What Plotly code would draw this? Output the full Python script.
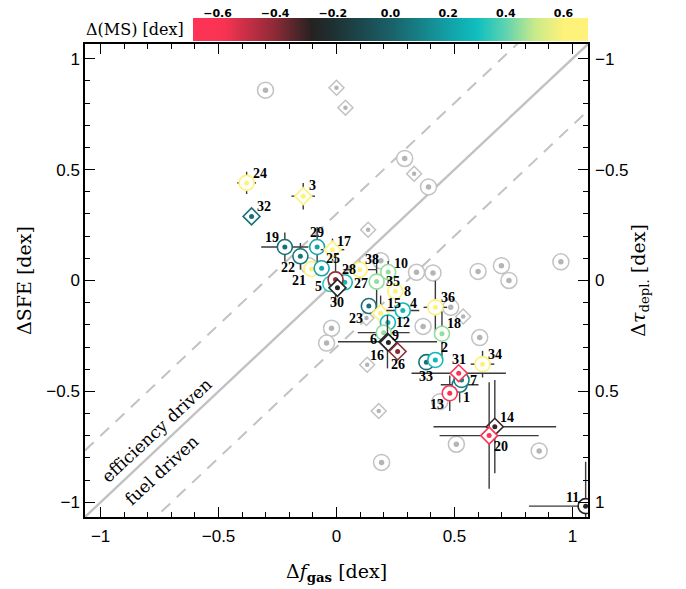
import plotly.graph_objects as go

# ---------------- data ----------------
IDS   = [19, 22, 29, 21, 25, 17, 24, 3, 32, 5, 27, 28, 30, 38, 10, 35, 8, 23, 15, 4,
         12, 9, 6, 16, 26, 36, 18, 33, 2, 1, 7, 13, 31, 34, 14, 20, 11]
DFGAS = [-0.219, -0.153, -0.082, -0.106, -0.063, -0.017, -0.381, -0.141, -0.360, -0.026,
         0.035, -0.004, 0.004, 0.099, 0.219, 0.170, 0.249, 0.137, 0.187, 0.281,
         0.218, 0.200, 0.216, 0.220, 0.259, 0.419, 0.447, 0.381, 0.419, 0.522,
         0.530, 0.480, 0.518, 0.619, 0.671, 0.647, 1.056]
DSFE  = [0.151, 0.109, 0.151, 0.052, 0.055, 0.139, 0.440, 0.380, 0.289, -0.016,
         -0.008, 0.005, -0.033, 0.049, 0.038, -0.005, -0.049, -0.115, -0.148, -0.135,
         -0.189, -0.235, -0.276, -0.280, -0.320, -0.121, -0.240, -0.368, -0.358, -0.470,
         -0.448, -0.508, -0.418, -0.377, -0.659, -0.699, -1.017]
DMS   = [0.05, 0.07, 0.22, 0.60, 0.22, 0.62, 0.62, 0.62, 0.05, 0.35,
         0.28, -0.42, -0.25, 0.62, 0.45, 0.45, 0.62, 0.06, 0.60, 0.28,
         0.28, 0.45, -0.25, -0.25, -0.40, 0.62, 0.45, 0.05, 0.28, 0.08,
         0.10, -0.65, -0.65, 0.62, -0.30, -0.65, -0.27]
SHAPE = ['circle', 'circle', 'circle', 'circle', 'circle', 'diamond', 'circle', 'diamond', 'diamond', 'circle',
         'circle', 'circle', 'diamond', 'circle', 'circle', 'circle', 'circle', 'circle', 'diamond', 'circle',
         'circle', 'circle', 'diamond', 'diamond', 'diamond', 'circle', 'circle', 'circle', 'circle', 'circle',
         'circle', 'circle', 'diamond', 'circle', 'diamond', 'diamond', 'circle']
XERR  = [0.10, 0, 0, 0, 0, 0.05, 0.04, 0.05, 0, 0,
         0, 0, 0, 0.07, 0, 0, 0, 0, 0, 0.07,
         0, 0.11, 0.21, 0, 0, 0.05, 0, 0, 0, 0.08,
         0, 0, 0.20, 0.05, 0.26, 0.21, 0.24]
YERR  = [0.065, 0.06, 0.09, 0, 0, 0.05, 0.05, 0.06, 0, 0,
         0, 0.11, 0, 0.04, 0.05, 0.12, 0, 0, 0.08, 0,
         0, 0, 0.12, 0, 0, 0.12, 0.10, 0, 0, 0.08,
         0, 0.08, 0, 0.06, 0.21, 0.24, 0.20]

# comparison sample (grey)
GREY_C_X = [-0.301, 0.289, 0.390, 0.339, 0.409, 0.600, 0.699, 0.731, 0.951, 0.188,
            -0.117, -0.021, -0.042, 0.367, 0.484, 0.607, 0.438, 0.191, 0.508, 0.859]
GREY_C_Y = [0.858, 0.550, 0.422, 0.037, 0.034, 0.041, 0.067, 0.000, 0.084, 0.089,
            0.066, -0.215, -0.282, -0.207, -0.121, -0.257, -0.546, -0.820, -0.738, -0.768]
GREY_D_X = [0.000, 0.038, 0.329, 0.134, 0.537, 0.130, 0.179, 0.127]
GREY_D_Y = [0.869, 0.779, 0.481, 0.229, -0.162, -0.380, -0.588, -0.169]

DIAG_OFFSETS = [0.0, 0.3, -0.3]
XTICKS = [-1, -0.5, 0, 0.5, 1]
CB_TICKS = [-0.6, -0.4, -0.2, 0.0, 0.2, 0.4, 0.6]

# ---------------- style ----------------
LABEL_SHIFT = {19: (-13, 9), 22: (-12, -11), 29: (0, 14), 21: (-12, -12), 25: (11, 10),
               17: (12, 8), 24: (13, 9), 3: (9, 11), 32: (12, 10), 5: (-12, -2),
               27: (16, -1), 28: (13, 10), 30: (0, -15), 38: (12, 10), 10: (13, 9),
               35: (16, 0), 8: (12, 0), 23: (-13, -12), 15: (13, 10), 4: (11, 7),
               12: (15, 0), 9: (12, -3), 6: (-14, 2), 16: (-11, -13), 26: (0, -13),
               36: (13, 10), 18: (12, 10), 33: (0, -14), 2: (9, 12), 1: (7, -13),
               7: (12, -1), 13: (-13, -11), 31: (0, 14), 34: (12, 10), 14: (12, 9),
               20: (12, -11), 11: (-13, 9)}

XR = [-1.066, 1.066]
YR = [-1.066, 1.066]
CMIN, CMAX = -0.685, 0.685
CSCALE = [[0.0, '#ff3355'], [0.08, '#f73352'], [0.208, '#8c2a36'], [0.30, '#262222'],
          [0.354, '#1e3032'], [0.5, '#1a6068'], [0.646, '#12a0a6'], [0.72, '#10bfbf'],
          [0.792, '#5fd3b0'], [0.865, '#c8ea8a'], [0.938, '#fdf27a'], [1.0, '#fff27a']]
GREY_RING = '#c2c2c2'
GREY_DOT = '#b5b5b5'
ERR_COL = '#3a3a3a'


def fmt(v):
    s = ('%g' % v)
    return s.replace('-', '\u2212')


fig = go.Figure()

# relation lines
for off in DIAG_OFFSETS:
    xs = list(XR)
    ys = [v + off for v in xs]
    fig.add_trace(go.Scatter(
        x=xs, y=ys, mode='lines', hoverinfo='skip', showlegend=False,
        line=dict(color=GREY_RING, width=2.4 if off == 0 else 2.0,
                  dash='solid' if off == 0 else '12px,9px')))

# grey comparison sample
fig.add_trace(go.Scatter(x=GREY_C_X, y=GREY_C_Y, mode='markers', showlegend=False,
                         marker=dict(symbol='circle', size=16, color='white',
                                     line=dict(color=GREY_RING, width=1.5))))
fig.add_trace(go.Scatter(x=GREY_C_X, y=GREY_C_Y, mode='markers', showlegend=False,
                         marker=dict(symbol='circle', size=5.5, color=GREY_DOT, line=dict(width=0))))
fig.add_trace(go.Scatter(x=GREY_D_X, y=GREY_D_Y, mode='markers', showlegend=False,
                         marker=dict(symbol='diamond', size=11.5, color='white',
                                     line=dict(color=GREY_RING, width=1.5))))
fig.add_trace(go.Scatter(x=GREY_D_X, y=GREY_D_Y, mode='markers', showlegend=False,
                         marker=dict(symbol='circle', size=4.5, color=GREY_DOT, line=dict(width=0))))

# main sample, one ring + dot per galaxy to keep the stacking order
n = len(IDS)
for i in range(n):
    ex = XERR[i]
    ey = YERR[i]
    ring_size = 15 if SHAPE[i] == 'circle' else 13
    fig.add_trace(go.Scatter(
        x=[DFGAS[i]], y=[DSFE[i]], mode='markers', showlegend=False,
        error_x=dict(type='data', array=[ex], visible=ex > 0, color=ERR_COL, thickness=1.4, width=0),
        error_y=dict(type='data', array=[ey], visible=ey > 0, color=ERR_COL, thickness=1.4, width=0),
        marker=dict(symbol=SHAPE[i], size=ring_size, color='white',
                    line=dict(color=[DMS[i]], colorscale=CSCALE, cmin=CMIN, cmax=CMAX, width=1.6))))
    last = (i == n - 1)
    fig.add_trace(go.Scatter(
        x=[DFGAS[i]], y=[DSFE[i]], mode='markers', showlegend=False,
        marker=dict(symbol='circle', size=5, color=[DMS[i]], colorscale=CSCALE,
                    cmin=CMIN, cmax=CMAX, line=dict(width=0), showscale=last,
                    colorbar=dict(orientation='h', lenmode='pixels', len=395, thickness=23,
                                  x=0.6074, xanchor='center', y=0.9539, yanchor='bottom',
                                  xpad=0, ypad=0, outlinewidth=0, ticks='',
                                  showticklabels=False) if last else None)))
    dxs, dys = LABEL_SHIFT[IDS[i]]
    fig.add_annotation(x=DFGAS[i], y=DSFE[i], text=str(IDS[i]), showarrow=False,
                       xshift=dxs, yshift=dys,
                       font=dict(family='Liberation Serif', size=14, color='black', weight='bold'))

# dummy traces to activate the secondary axes
fig.add_trace(go.Scatter(x=[None], y=[None], yaxis='y2', showlegend=False, hoverinfo='skip'))
fig.add_trace(go.Scatter(x=[None], y=[None], xaxis='x3', yaxis='y3', showlegend=False, hoverinfo='skip'))

# region text
fig.add_annotation(x=-0.761, y=-0.674, text='efficiency driven', showarrow=False, textangle=-43,
                   font=dict(family='DejaVu Serif', size=17, color='black'))
fig.add_annotation(x=-0.740, y=-0.854, text='fuel driven', showarrow=False, textangle=-43,
                   font=dict(family='DejaVu Serif', size=17, color='black'))
# colorbar title
fig.add_annotation(xref='paper', yref='paper', x=0.2008, y=0.977, xanchor='right', yanchor='middle',
                   text='Δ(MS) [dex]', showarrow=False,
                   font=dict(family='DejaVu Serif', size=16, color='black'))

TICKFONT = dict(family='Liberation Sans', size=17, color='black')
TITLEFONT = dict(family='DejaVu Serif', size=19, color='black')
axis_common = dict(showline=True, linecolor='black', linewidth=1.5, mirror='ticks',
                   ticks='inside', ticklen=10, tickwidth=1.3, tickcolor='black',
                   showgrid=False, zeroline=False, tickfont=TICKFONT, automargin=False,
                   tickvals=XTICKS,
                   minor=dict(ticks='inside', ticklen=5, tickwidth=1.3, tickcolor='black', dtick=0.1))

# right axis: depletion time, tau = -SFE offset
TAU_TEXT = [fmt(-v) for v in XTICKS]

fig.update_layout(
    width=686, height=589,
    margin=dict(l=77, r=106, t=10, b=80, autoexpand=False),
    paper_bgcolor='white', plot_bgcolor='white',
    showlegend=False,
    xaxis=dict(range=XR, domain=[0, 1], anchor='y', ticklabelstandoff=3,
               title=dict(text='Δ<i>f</i><sub><b>gas</b></sub> [dex]', font=TITLEFONT, standoff=20),
               **axis_common),
    yaxis=dict(range=YR, domain=[0, 0.9479], anchor='x',
               title=dict(text='ΔSFE [dex]', font=TITLEFONT, standoff=10),
               **axis_common),
    yaxis2=dict(range=YR, overlaying='y', side='right', anchor='x',
                showline=False, ticks='', showgrid=False, zeroline=False, automargin=False,
                tickvals=XTICKS, ticktext=TAU_TEXT, tickfont=TICKFONT, ticklabelstandoff=6,
                title=dict(text='Δ<i>τ</i><sub>depl.</sub> [dex]', font=TITLEFONT, standoff=4)),
    xaxis3=dict(range=[CMIN, CMAX], domain=[0.2147, 1.0], anchor='y3', side='top',
                showline=False, ticks='', showgrid=False, zeroline=False, automargin=False,
                tickvals=CB_TICKS, tickformat='.1f', ticklabelstandoff=-2,
                tickfont=dict(family='DejaVu Sans', size=11, color='black', weight='bold')),
    yaxis3=dict(range=[0, 1], domain=[0.9539, 1.0], anchor='x3', visible=False),
)

fig.write_html('out.html')
